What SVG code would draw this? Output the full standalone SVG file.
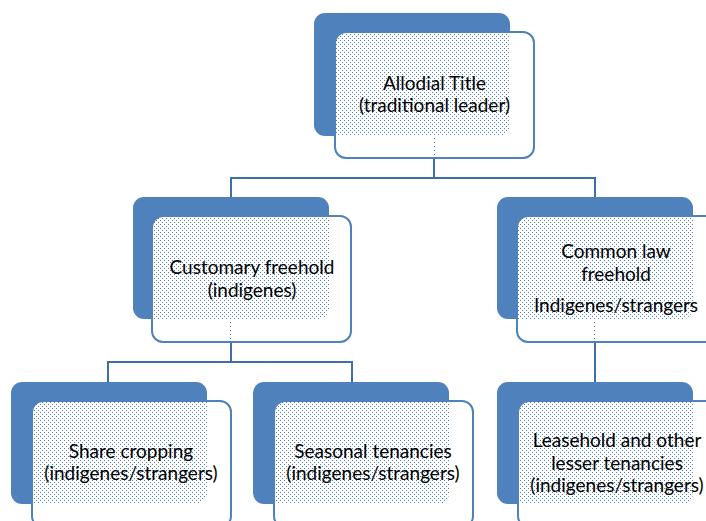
<svg xmlns="http://www.w3.org/2000/svg" width="706" height="521" viewBox="0 0 706 521">
  <defs>
    <pattern id="stip" patternUnits="userSpaceOnUse" x="0" y="0" width="4" height="4">
      <path d="M0 0h4v4h-4z M0 0h1v1h-1z M2 2h1v1h-1z" fill="#ffffff" fill-rule="evenodd"/>
    </pattern>
  </defs>
  <style>
    .back { fill: #4F81BD; }
    .front { fill: url(#stip); stroke: #4F81BD; stroke-width: 2; }
    .conn { fill: none; stroke: #3F6FA4; stroke-width: 2; }
    text { font-family: Lato, "Open Sans", "Liberation Sans", sans-serif; font-size: 19px; fill: #000000; text-anchor: middle; }
  </style>
  <rect x="0" y="0" width="706" height="521" fill="#ffffff"/>
  <g id="connectors">
    <path class="conn" d="M434 120 V178 M231 178 H595 M231 177 V260 M595 177 V260"/>
    <path class="conn" d="M231 300 V362 M108 362 H352 M108 361 V440 M352 361 V440"/>
    <path class="conn" d="M595 300 V440"/>
  </g>
  <g id="n-allodial">
    <rect class="back" x="314" y="13" width="196" height="123" rx="11"/>
    <rect class="front" x="335" y="32" width="199" height="126" rx="11"/>
    <text x="434.5" y="90">Allodial Title</text>
    <text x="434.5" y="112">(traditional leader)</text>
  </g>
  <g id="n-customary">
    <rect class="back" x="133" y="197" width="196" height="122" rx="11"/>
    <rect class="front" x="152" y="216" width="199" height="126" rx="11"/>
    <text x="252" y="274">Customary freehold</text>
    <text x="252" y="297">(indigenes)</text>
  </g>
  <g id="n-common">
    <rect class="back" x="497" y="197" width="196" height="122" rx="11"/>
    <rect class="front" x="517" y="216" width="199" height="126" rx="11"/>
    <text x="616" y="258">Common law</text>
    <text x="616" y="281">freehold</text>
    <text x="616" y="312">Indigenes/strangers</text>
  </g>
  <g id="n-share">
    <rect class="back" x="11" y="382" width="196" height="122" rx="11"/>
    <rect class="front" x="32" y="401" width="199" height="126" rx="11"/>
    <text x="131" y="458">Share cropping</text>
    <text x="131" y="480">(indigenes/strangers)</text>
  </g>
  <g id="n-seasonal">
    <rect class="back" x="253" y="382" width="196" height="122" rx="11"/>
    <rect class="front" x="274" y="401" width="199" height="126" rx="11"/>
    <text x="373" y="458">Seasonal tenancies</text>
    <text x="373" y="480">(indigenes/strangers)</text>
  </g>
  <g id="n-leasehold">
    <rect class="back" x="497" y="382" width="196" height="122" rx="11"/>
    <rect class="front" x="518" y="401" width="199" height="126" rx="11"/>
    <text x="617" y="447">Leasehold and other</text>
    <text x="617" y="470">lesser tenancies</text>
    <text x="617" y="492">(indigenes/strangers)</text>
  </g>
</svg>
